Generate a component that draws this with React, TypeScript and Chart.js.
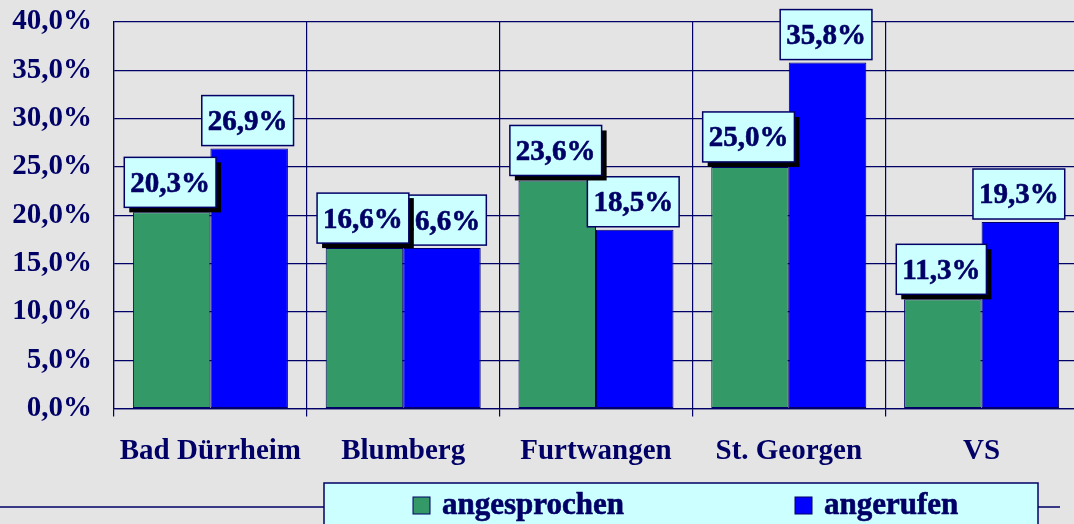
import { useEffect, useRef } from "react";
import { Chart, registerables } from "chart.js";

Chart.register(...registerables);

const categories = ["Bad Dürrheim", "Blumberg", "Furtwangen", "St. Georgen", "VS"];
const seriesNames = ["angesprochen", "angerufen"];
const angesprochen = [20.3, 16.6, 23.6, 25.0, 11.3];
const angerufen = [26.9, 16.6, 18.5, 35.8, 19.3];
const seriesColors = ["#339966", "#0000FF"];
const yMin = 0;
const yMax = 40;
const yStep = 5;

const NAVY = "#000066";
const LABEL_BG = "#CCFFFF";
const SERIF = '"Liberation Serif", "Times New Roman", serif';

const fmt = (v: number) => v.toFixed(1).replace(".", ",") + "%";

const dataLabelPlugin = {
  id: "dataLabelBoxes",
  afterDatasetsDraw(chart: any) {
    const ctx = chart.ctx;
    ctx.save();
    ctx.font = `bold 29px ${SERIF}`;
    const order = [1, 0];
    for (const di of order) {
      const meta = chart.getDatasetMeta(di);
      meta.data.forEach((bar: any, i: number) => {
        const v = chart.data.datasets[di].data[i] as number;
        const text = fmt(v);
        const tw = ctx.measureText(text).width;
        const w = tw + 12;
        const h = 50;
        const cx = bar.x - 1.5;
        const bottom = bar.y - (di === 0 ? 5 : 3);
        const x = cx - w / 2;
        const y = bottom - h;
        if (di === 0) {
          ctx.fillStyle = "#000000";
          ctx.fillRect(x + 5, y + 5, w, h);
        }
        ctx.fillStyle = LABEL_BG;
        ctx.fillRect(x, y, w, h);
        ctx.strokeStyle = NAVY;
        ctx.lineWidth = 1.5;
        ctx.strokeRect(x, y, w, h);
        ctx.fillStyle = NAVY;
        ctx.strokeStyle = NAVY;
        ctx.lineWidth = 0.6;
        ctx.textAlign = "center";
        ctx.textBaseline = "middle";
        ctx.fillText(text, cx, y + h / 2 + 2);
        ctx.strokeText(text, cx, y + h / 2 + 2);
      });
    }
    ctx.restore();
  },
};

const legendPlugin = {
  id: "boxLegend",
  afterDraw(chart: any) {
    const ctx = chart.ctx;
    ctx.save();
    ctx.strokeStyle = NAVY;
    ctx.lineWidth = 1.5;
    ctx.beginPath();
    ctx.moveTo(0, 507);
    ctx.lineTo(1060, 507);
    ctx.stroke();
    const bx = 324, by = 483, bw = 714, bh = 60;
    ctx.fillStyle = LABEL_BG;
    ctx.fillRect(bx, by, bw, bh);
    ctx.strokeRect(bx, by, bw, bh);
    const itemX = [413, 795];
    ctx.font = `bold 31px ${SERIF}`;
    ctx.textAlign = "left";
    ctx.textBaseline = "alphabetic";
    chart.data.datasets.forEach((ds: any, i: number) => {
      const sx = itemX[i];
      ctx.fillStyle = ds.backgroundColor;
      ctx.fillRect(sx, 497, 17, 17);
      ctx.strokeStyle = NAVY;
      ctx.lineWidth = 1;
      ctx.strokeRect(sx, 497, 17, 17);
      ctx.fillStyle = NAVY;
      ctx.lineWidth = 0.6;
      ctx.fillText(ds.label, sx + 29, 514);
      ctx.strokeText(ds.label, sx + 29, 514);
    });
    ctx.restore();
  },
};

export default function App() {
  const canvasRef = useRef<HTMLCanvasElement | null>(null);

  useEffect(() => {
    const canvas = canvasRef.current;
    if (!canvas) return;
    const tickFont = { family: SERIF, size: 29, weight: "bold" as const };
    const chart = new Chart(canvas, {
      type: "bar",
      data: {
        labels: categories,
        datasets: [
          {
            label: seriesNames[0],
            data: angesprochen,
            backgroundColor: seriesColors[0],
            borderColor: NAVY,
            borderWidth: 1,
            borderSkipped: false,
            categoryPercentage: 0.804,
            barPercentage: 1,
          },
          {
            label: seriesNames[1],
            data: angerufen,
            backgroundColor: seriesColors[1],
            borderColor: NAVY,
            borderWidth: 1,
            borderSkipped: false,
            categoryPercentage: 0.804,
            barPercentage: 1,
          },
        ],
      },
      options: {
        responsive: false,
        animation: false,
        layout: { padding: { top: 22, left: 0, right: 0, bottom: 0 } },
        plugins: {
          legend: { display: false },
          tooltip: { enabled: false },
        },
        scales: {
          x: {
            grid: {
              color: NAVY,
              lineWidth: 1.2,
              offset: true,
              drawTicks: true,
              tickLength: 8,
            },
            border: { color: NAVY, width: 1.2 },
            ticks: {
              font: tickFont,
              color: NAVY,
              padding: 18,
              maxRotation: 0,
              autoSkip: false,
            },
            afterFit: (s: any) => {
              s.height = 115.5;
              s.paddingLeft = 0;
              s.paddingRight = 0;
            },
          },
          y: {
            min: yMin,
            max: yMax,
            ticks: {
              stepSize: yStep,
              font: tickFont,
              color: NAVY,
              padding: 22,
              callback: (v: any) => fmt(Number(v)),
            },
            grid: { color: NAVY, lineWidth: 1.2, drawTicks: false },
            border: { color: NAVY, width: 1.2 },
            afterFit: (s: any) => {
              s.width = 114;
              s.paddingTop = 0;
              s.paddingBottom = 0;
            },
          },
        },
      },
      plugins: [dataLabelPlugin, legendPlugin],
    });
    return () => chart.destroy();
  }, []);

  return (
    <div
      style={{
        position: "fixed",
        left: 0,
        top: 0,
        width: 1074,
        height: 524,
        overflow: "hidden",
        background: "#E4E4E4",
      }}
    >
      <canvas ref={canvasRef} width={1078} height={524} style={{ display: "block" }} />
    </div>
  );
}
